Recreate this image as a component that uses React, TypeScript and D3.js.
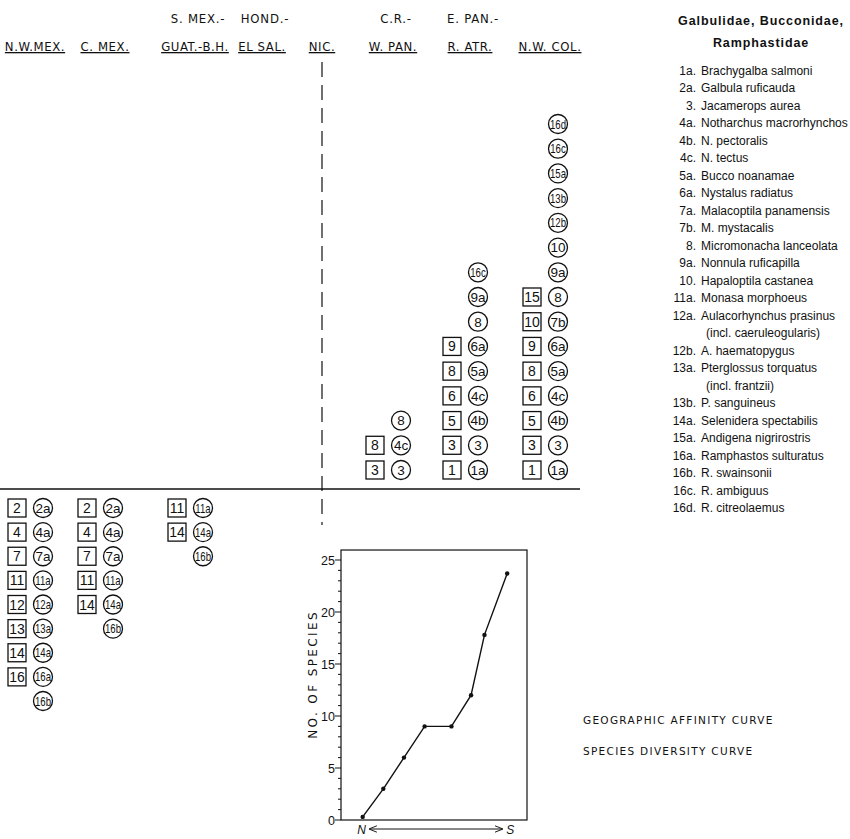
import React from "react";
import * as d3 from "d3";

// ---- Data ----
const COLUMNS = ["N.W.MEX.", "C. MEX.", "GUAT.-B.H.", "EL SAL.", "NIC.", "W. PAN.", "R. ATR.", "N.W. COL."];
const UPPER_HEADERS = ["", "", "S. MEX.-", "HOND.-", "", "C.R.-", "E. PAN.-", ""];

// Species stacked above the line (geographic affinity: southern)
const ABOVE_SQUARES: string[][] = [
  [], [], [], [], [],
  ["3", "8"],
  ["1", "3", "5", "6", "8", "9"],
  ["1", "3", "5", "6", "8", "9", "10", "15"],
];
const ABOVE_CIRCLES: string[][] = [
  [], [], [], [], [],
  ["3", "4c", "8"],
  ["1a", "3", "4b", "4c", "5a", "6a", "8", "9a", "16c"],
  ["1a", "3", "4b", "4c", "5a", "6a", "7b", "8", "9a", "10", "12b", "13b", "15a", "16c", "16d"],
];
// Species stacked below the line (northern)
const BELOW_SQUARES: string[][] = [
  ["2", "4", "7", "11", "12", "13", "14", "16"],
  ["2", "4", "7", "11", "14"],
  ["11", "14"],
  [], [], [], [], [],
];
const BELOW_CIRCLES: string[][] = [
  ["2a", "4a", "7a", "11a", "12a", "13a", "14a", "16a", "16b"],
  ["2a", "4a", "7a", "11a", "14a", "16b"],
  ["11a", "14a", "16b"],
  [], [], [], [], [],
];

const LEGEND_TITLE = ["Galbulidae, Bucconidae,", "Ramphastidae"];
const LEGEND_CODES = ["1a.", "2a.", "3.", "4a.", "4b.", "4c.", "5a.", "6a.", "7a.", "7b.", "8.", "9a.", "10.", "11a.", "12a.", "", "12b.", "13a.", "", "13b.", "14a.", "15a.", "16a.", "16b.", "16c.", "16d."];
const LEGEND_NAMES = [
  "Brachygalba salmoni", "Galbula ruficauda", "Jacamerops aurea", "Notharchus macrorhynchos",
  "N. pectoralis", "N. tectus", "Bucco noanamae", "Nystalus radiatus", "Malacoptila panamensis",
  "M. mystacalis", "Micromonacha lanceolata", "Nonnula ruficapilla", "Hapaloptila castanea",
  "Monasa morphoeus", "Aulacorhynchus prasinus", "(incl. caeruleogularis)", "A. haematopygus",
  "Pterglossus torquatus", "(incl. frantzii)", "P. sanguineus", "Selenidera spectabilis",
  "Andigena nigrirostris", "Ramphastos sulturatus", "R. swainsonii", "R. ambiguus", "R. citreolaemus",
];

// Inset: species diversity N -> S
const DIV_X = [0, 1, 2, 3, 4.3, 5.25, 5.9, 7];
const DIV_Y = [0.3, 3, 6, 9, 9, 12, 17.8, 23.7];
const DIV_MAJOR = [0, 5, 10, 15, 20, 25];

const CURVE_LABELS = ["GEOGRAPHIC  AFFINITY  CURVE", "SPECIES  DIVERSITY  CURVE"];

const HFONT = "'DejaVu Sans', sans-serif";
const CFONT = "'DejaVu Sans Condensed', 'Liberation Sans', sans-serif";
const NFONT = "'Liberation Sans', Arial, sans-serif";

export default function App() {
  const W = 850, H = 839;
  const colX = d3.scaleOrdinal<string, number>().domain(COLUMNS).range([35, 105, 195, 262, 322, 393, 470, 550]);
  const pairX = (c: string) => colX(c) - 5;
  const SQ_OFF = -13, CI_OFF = 13;
  const yAbove = d3.scaleLinear().domain([0, 14]).range([470, 124]);
  const yBelow = d3.scaleLinear().domain([0, 8]).range([508, 701]);
  const baseY = 489;
  const SQ = 18, R = 9.5;

  // inset scales
  const ix = d3.scaleLinear().domain([-1.05, 7.96]).range([341, 527]);
  const iy = d3.scaleLinear().domain([0, 25]).range([820, 560]);
  const boxTop = iy(25.96);
  const line = d3.line<number>().x((_, i) => ix(DIV_X[i])).y((d) => iy(d));
  const minor = d3.range(0, 26);

  const legendY = d3.scaleLinear().domain([0, LEGEND_CODES.length - 1]).range([70, 507]);

  const square = (label: string, x: number, y: number, key: string) => (
    <g key={key}>
      <rect x={x - SQ / 2} y={y - SQ / 2} width={SQ} height={SQ} fill="white" stroke="#111" strokeWidth={1.3} />
      <text x={x} y={y + 5} textAnchor="middle" fontSize={14} fontFamily={NFONT} fill="#111">{label}</text>
    </g>
  );
  const circle = (label: string, x: number, y: number, key: string) => {
    const long = label.length > 2;
    return (
      <g key={key}>
        <circle cx={x} cy={y} r={R} fill="white" stroke="#111" strokeWidth={1.3} />
        <text transform={`translate(${x}, ${y + (long ? 4.6 : 4.8)}) scale(${long ? 0.74 : 1}, 1)`} textAnchor="middle"
          fontSize={long ? 13 : 13.5} fontFamily={NFONT} fill="#111">{label}</text>
      </g>
    );
  };

  return (
    <svg width={W} height={H} style={{ position: "absolute", left: 0, top: 0, background: "white" }} fontFamily={NFONT}>
      <rect width={W} height={H} fill="white" />
      {/* headers */}
      {COLUMNS.map((c, i) => (
        <g key={c} fontFamily={CFONT}>
          {UPPER_HEADERS[i] && (
            <text x={colX(c) + 3} y={23} textAnchor="middle" fontSize={13} letterSpacing={0.8} fill="#111">{UPPER_HEADERS[i]}</text>
          )}
          <text x={colX(c)} y={51} textAnchor="middle" fontSize={13} letterSpacing={0.6} fill="#111" textDecoration="underline">{c}</text>
        </g>
      ))}
      {/* NIC dashed divider */}
      <line x1={colX("NIC.")} x2={colX("NIC.")} y1={62} y2={525} stroke="#111" strokeWidth={1.2} strokeDasharray="15 8" />
      {/* baseline */}
      <line x1={0} x2={580} y1={baseY} y2={baseY} stroke="#111" strokeWidth={1.3} />

      {COLUMNS.map((c, i) => (
        <g key={"m" + c}>
          {ABOVE_SQUARES[i].map((s, j) => square(s, pairX(c) + SQ_OFF, yAbove(j), `as${i}-${j}`))}
          {ABOVE_CIRCLES[i].map((s, j) => circle(s, pairX(c) + CI_OFF, yAbove(j), `ac${i}-${j}`))}
          {BELOW_SQUARES[i].map((s, j) => square(s, pairX(c) + SQ_OFF, yBelow(j), `bs${i}-${j}`))}
          {BELOW_CIRCLES[i].map((s, j) => circle(s, pairX(c) + CI_OFF, yBelow(j), `bc${i}-${j}`))}
        </g>
      ))}

      {/* legend */}
      {LEGEND_TITLE.map((t, i) => (
        <text key={t} x={761} y={25 + i * 22} textAnchor="middle" fontSize={12.5} fontWeight="bold" letterSpacing={0.9} fill="#111">{t}</text>
      ))}
      {LEGEND_CODES.map((code, i) => (
        <g key={"lg" + i} fontSize={13.5} fill="#111">
          <text transform={`translate(696, ${legendY(i) + 5}) scale(0.89, 1)`} textAnchor="end">{code}</text>
          <text transform={`translate(${code ? 701 : 706}, ${legendY(i) + 5}) scale(0.89, 1)`}>{LEGEND_NAMES[i]}</text>
        </g>
      ))}

      {/* inset chart */}
      <rect x={ix.range()[0]} y={boxTop} width={ix.range()[1] - ix.range()[0]} height={iy(0) - boxTop} fill="none" stroke="#111" strokeWidth={1.2} />
      {minor.map((v) => (
        <line key={"mt" + v} x1={ix.range()[0] - (v % 5 === 0 ? 6 : 3)} x2={ix.range()[0]} y1={iy(v)} y2={iy(v)} stroke="#111" strokeWidth={1} />
      ))}
      {DIV_MAJOR.map((v) => (
        <text key={"yl" + v} x={ix.range()[0] - 6} y={iy(v) + 4.5} textAnchor="end" fontSize={12.5} fill="#111">{v}</text>
      ))}
      <text transform={`translate(317, ${iy(14)}) rotate(-90)`} textAnchor="middle" fontSize={12} letterSpacing={2.4} fill="#111" fontFamily={HFONT}>NO. OF SPECIES</text>
      <path d={line(DIV_Y) || ""} fill="none" stroke="#111" strokeWidth={1.4} />
      {DIV_Y.map((v, i) => (
        <circle key={"dp" + i} cx={ix(DIV_X[i])} cy={iy(v)} r={2.2} fill="#111" />
      ))}
      {/* N <-> S */}
      <defs>
        <marker id="arr" viewBox="0 0 10 10" refX={9} refY={5} markerWidth={8} markerHeight={8} orient="auto-start-reverse">
          <path d="M0,1 L10,5 L0,9" fill="none" stroke="#111" strokeWidth={1.2} />
        </marker>
      </defs>
      <text x={ix(0) - 1} y={iy(0) + 14} textAnchor="middle" fontSize={12} fontStyle="italic" fill="#111">N</text>
      <line x1={ix(0) + 7} x2={ix(7) - 5} y1={iy(0) + 9} y2={iy(0) + 9} stroke="#111" strokeWidth={1} markerStart="url(#arr)" markerEnd="url(#arr)" />
      <text x={ix(7) + 3} y={iy(0) + 14} textAnchor="middle" fontSize={12} fontStyle="italic" fill="#111">S</text>

      {CURVE_LABELS.map((t, i) => (
        <text key={t} x={583} y={724 + i * 31} fontSize={10.5} letterSpacing={1.3} fill="#111" fontFamily={HFONT}>{t}</text>
      ))}
    </svg>
  );
}
